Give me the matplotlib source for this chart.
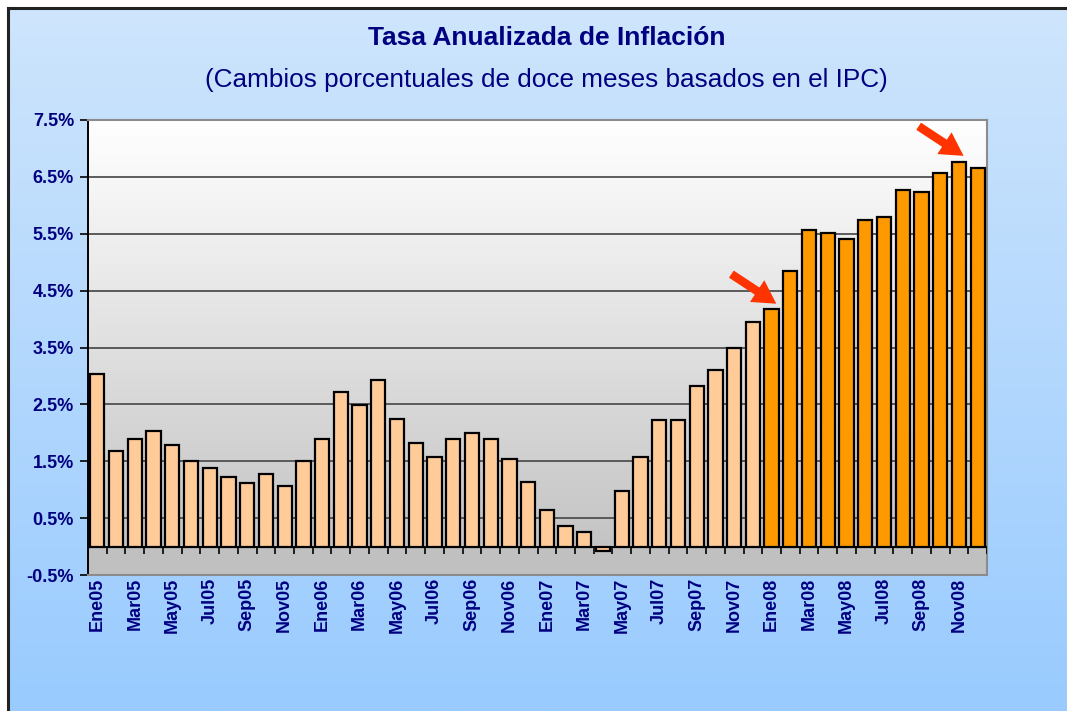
import numpy as np
import matplotlib
matplotlib.use("Agg")
import matplotlib.pyplot as plt

# twelve-month CPI change, Jan 2005 .. Dec 2008 (%)
inflation_2005 = [3.03, 1.68, 1.90, 2.04, 1.79, 1.50, 1.39, 1.22, 1.11, 1.28, 1.07, 1.50]
inflation_2006 = [1.90, 2.72, 2.49, 2.93, 2.25, 1.82, 1.58, 1.90, 2.00, 1.90, 1.54, 1.14]
inflation_2007 = [0.65, 0.37, 0.26, -0.07, 0.97, 1.58, 2.22, 2.22, 2.82, 3.10, 3.50, 3.95]
inflation_2008 = [4.17, 4.85, 5.56, 5.52, 5.41, 5.74, 5.80, 6.27, 6.24, 6.56, 6.77, 6.66]

month_abbr = ["Ene", "Feb", "Mar", "Abr", "May", "Jun",
              "Jul", "Ago", "Sep", "Oct", "Nov", "Dic"]
years = ["05", "06", "07", "08"]
arrow_months = ["Ene08", "Nov08"]
yticks = [-0.5, 0.5, 1.5, 2.5, 3.5, 4.5, 5.5, 6.5, 7.5]

values = np.array(inflation_2005 + inflation_2006 + inflation_2007 + inflation_2008)
labels = [m + y for y in years for m in month_abbr]
x = np.arange(len(values))

NAVY = "#000080"
plt.rcParams["font.family"] = ["Liberation Sans", "DejaVu Sans"]

fig = plt.figure(figsize=(10.67, 7.11), dpi=100)
fig.patch.set_facecolor("white")

# blue gradient background inside the dark frame
W, H = 1067, 711
bg = fig.add_axes([8 / W, 0, 1 - 8 / W, 1 - 8 / H], zorder=-10)
top_c = np.array([206, 229, 252]) / 255
bot_c = np.array([153, 203, 255]) / 255
t = np.linspace(0, 1, 256)[:, None]
grad = (top_c * (1 - t) + bot_c * t)[:, None, :]
bg.imshow(grad, aspect="auto", extent=[0, 1, 0, 1])
bg.set_axis_off()
fig.add_artist(plt.Line2D([8 / W, 8 / W], [0, 1 - 8 / H], color="#222222", lw=2.2))
fig.add_artist(plt.Line2D([8 / W, 1], [1 - 8 / H, 1 - 8 / H], color="#222222", lw=2.2))

ax = fig.add_axes([88 / W, 1 - 575 / H, (987 - 88) / W, (575 - 120) / H])
ax.set_xlim(-0.5, len(values) - 0.5)
ax.set_ylim(-0.5, 7.5)

# plot area: white-to-gray gradient above zero, gray floor below
g0 = np.array([1.0, 1.0, 1.0])
g1 = np.array([196, 196, 196]) / 255
pa = (g0 * (1 - t) + g1 * t)[:, None, :]
ax.imshow(pa, aspect="auto", extent=[-0.5, len(values) - 0.5, 0, 7.5], zorder=0)
ax.axhspan(-0.5, 0, color="#c0c0c0", zorder=0)

for yv in yticks[1:-1]:
    ax.axhline(yv, color="#505050", lw=1.3, zorder=1)

colors = ["#ff9900" if lab.endswith("08") else "#ffcc99" for lab in labels]
ax.bar(x, values, width=0.76, color=colors, edgecolor="black", linewidth=1.6, zorder=3)

# category axis at zero with boundary tick marks
ax.axhline(0, color="black", lw=1.4, zorder=4)
ax.vlines(np.arange(len(values) + 1) - 0.5, -0.13, 0, color="black", lw=1.2, zorder=4)

for side in ["top", "right", "bottom"]:
    ax.spines[side].set_color("#8c8c8c")
    ax.spines[side].set_linewidth(1.5)
ax.spines["left"].set_color("black")
ax.spines["left"].set_linewidth(1.4)

ax.set_yticks(yticks)
ax.set_yticklabels([f"{v:.1f}%" for v in yticks], fontsize=13,
                   fontweight="bold", color=NAVY)
ax.tick_params(axis="y", length=6, width=1.2, color="black", pad=4)

ax.set_xticks(x[::2])
ax.set_xticklabels(labels[::2], rotation=90, fontsize=13, fontweight="bold",
                   color=NAVY, va="top", ha="center")
ax.tick_params(axis="x", length=0, pad=2)

for lab in arrow_months:
    i = labels.index(lab)
    v = values[i]
    ax.annotate("", xy=(i + 0.25, v + 0.1), xytext=(i - 2.15, v + 0.62),
                arrowprops=dict(arrowstyle="simple,head_width=0.85,head_length=0.75,tail_width=0.28",
                                fc="#ff3300", ec="none", mutation_scale=22,
                                shrinkA=0, shrinkB=0),
                zorder=6, annotation_clip=False)

fig.text(547 / W, 1 - 38 / H, "Tasa Anualizada de Inflación", ha="center", va="center",
         fontsize=19, fontweight="bold", color=NAVY)
fig.text(546 / W, 1 - 80 / H, "(Cambios porcentuales de doce meses basados en el IPC)",
         ha="center", va="center", fontsize=18.8, color=NAVY)

fig.savefig("out.png", dpi=100)
